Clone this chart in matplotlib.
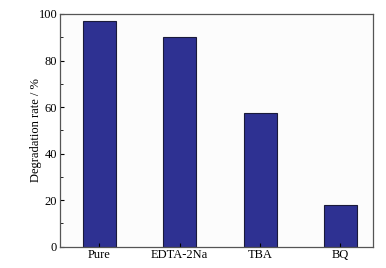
import numpy as np
import matplotlib.pyplot as plt
from matplotlib.ticker import MultipleLocator

labels = ['Pure', 'EDTA-2Na', 'TBA', 'BQ']
rates = [97.0, 90.2, 57.6, 17.9]

plt.rcParams['font.family'] = 'Liberation Serif'
plt.rcParams['font.size'] = 9

fig = plt.figure(figsize=(3.86, 2.68), dpi=100)
ax = fig.add_axes([0.1554, 0.0795, 0.81, 0.8683])
ax.set_facecolor('#fcfcfc')

x = np.arange(len(labels))
ax.bar(x, rates, width=0.41, color='#2e3192', edgecolor='#1a1a3a', linewidth=0.8)
ax.set_xticks(x)
ax.set_xticklabels(labels)
ax.set_xlim(-0.49, 3.4)
ax.set_ylim(0, 100)
ax.yaxis.set_major_locator(MultipleLocator(20))
ax.yaxis.set_minor_locator(MultipleLocator(10))
ax.tick_params(direction='in', length=3, width=0.8, pad=2)
ax.tick_params(which='minor', direction='in', length=2, width=0.6)
ax.set_ylabel('Degradation rate / %')
ax.yaxis.set_label_coords(-0.058, 0.5)
for s in ax.spines.values():
    s.set_color('#555555')
    s.set_linewidth(0.9)

fig.savefig('out.png', dpi=100)
